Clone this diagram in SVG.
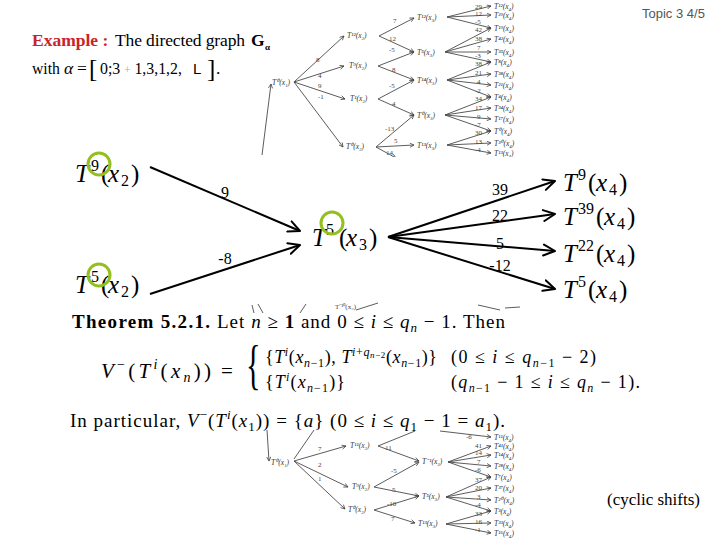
<svg xmlns="http://www.w3.org/2000/svg" width="720" height="540" viewBox="0 0 720 540">
<defs>
<style>
.mt{font-family:"Liberation Serif","DejaVu Serif",serif;fill:#000}
.it{font-style:italic}
.b{font-weight:bold}
.edge{stroke:#000;stroke-width:2;fill:none}
.ring{fill:none;stroke:#93C01F;stroke-width:3}
.tr{stroke:#4a4a4a;stroke-width:0.9;fill:none}
.tt{font-family:"Liberation Serif",serif;font-size:7px;fill:#444}
.tn{font-family:"Liberation Serif",serif;font-size:7.5px;fill:#333;font-style:italic}
</style>
<marker id="ah" viewBox="0 0 14 14" refX="12.5" refY="7" markerWidth="14" markerHeight="14" orient="auto" markerUnits="userSpaceOnUse">
<path d="M1,1.5 L12.5,7 L1,12.5" fill="none" stroke="#000" stroke-width="2" stroke-linecap="round" stroke-linejoin="round"/>
</marker>
<marker id="sa" viewBox="0 0 6 6" refX="5.5" refY="3" markerWidth="5" markerHeight="5" orient="auto" markerUnits="userSpaceOnUse">
<path d="M0.5,0.5 L5.5,3 L0.5,5.5" fill="none" stroke="#444" stroke-width="0.9"/>
</marker>
<clipPath id="cTop"><rect x="255" y="0" width="265" height="157"/></clipPath>
<clipPath id="cBot"><rect x="255" y="430" width="265" height="110"/></clipPath>
</defs>
<rect width="720" height="540" fill="#fff"/>

<!-- header -->
<g id="header">
<text x="642" y="18" font-family="'Liberation Sans',Arial,sans-serif" font-size="13" fill="#555">Topic 3 4/5</text>
<text x="32" y="46" class="mt b" font-size="17.5" style="fill:#CC2229">Example :</text>
<text x="115" y="46" class="mt" font-size="17.5" textLength="130" lengthAdjust="spacing">The directed graph</text>
<text x="251" y="46" class="mt b" font-size="17.5">G</text>
<text x="265" y="50" class="mt b" font-size="9">α</text>
<text x="32" y="74" class="mt" font-size="17.5" textLength="28" lengthAdjust="spacingAndGlyphs">with</text>
<text x="64" y="74" class="mt it" font-size="17.5">α</text>
<text x="77" y="74" class="mt" font-size="17.5">=</text>
<text x="89" y="77" class="mt" font-size="25">[</text>
<text x="100" y="74" class="mt" font-size="17.5" textLength="82" lengthAdjust="spacingAndGlyphs">0;3 <tspan font-size="12" style="fill:#aaa">+</tspan> 1,3,1,2,</text>
<text x="193" y="74" font-size="15" font-family="'Liberation Sans',sans-serif" fill="#000">L</text>
<text x="207" y="77" class="mt" font-size="25">]</text>
<text x="216" y="74" class="mt" font-size="17.5">.</text>
</g>

<!-- faint top tree -->
<g id="topTree" clip-path="url(#cTop)">
<g class="tr" marker-end="url(#sa)">
<path d="M262,155 L271,84"/>
<path d="M294,82 L344,36"/><path d="M294,82 L344,66"/><path d="M294,82 L345,99"/><path d="M294,82 L343,147"/>
<path d="M379,36 L414,18"/><path d="M379,36 L414,52"/>
<path d="M378,66 L414,52"/><path d="M378,66 L414,80"/>
<path d="M378,99 L414,80"/><path d="M378,99 L414,115"/>
<path d="M376,147 L414,115"/><path d="M376,147 L414,145"/><path d="M376,147 L396,158"/>
<path d="M447,17 L491,6"/><path d="M447,17 L491,15"/><path d="M447,17 L491,28"/>
<path d="M445,52 L491,28"/><path d="M445,52 L491,39"/><path d="M445,52 L491,52"/><path d="M445,52 L491,62"/>
<path d="M447,80 L491,62"/><path d="M447,80 L491,74"/><path d="M447,80 L491,85"/><path d="M447,80 L491,97"/>
<path d="M445,115 L491,97"/><path d="M445,115 L491,108"/><path d="M445,115 L491,119"/><path d="M445,115 L491,131"/>
<path d="M447,145 L491,131"/><path d="M447,145 L491,143"/><path d="M447,145 L491,153"/>
</g>
<text class="tn" x="272" y="85">T⁰(x₁)</text>
<text class="tn" x="347" y="38">T¹²(x₂)</text>
<text class="tn" x="349" y="68">T⁹(x₂)</text>
<text class="tn" x="350" y="101">T¹(x₂)</text>
<text class="tn" x="346" y="149">T⁰(x₂)</text>
<text class="tn" x="417" y="20">T¹²(x₃)</text>
<text class="tn" x="417" y="55">T⁵(x₃)</text>
<text class="tn" x="417" y="83">T¹⁴(x₃)</text>
<text class="tn" x="417" y="118">T⁰(x₃)</text>
<text class="tn" x="417" y="148">T¹³(x₃)</text>
<g class="tn">
<text x="494" y="9">T¹²(x₄)</text><text x="494" y="18">T²⁹(x₄)</text><text x="494" y="31">T¹⁹(x₄)</text>
<text x="494" y="42">T⁴²(x₄)</text><text x="494" y="55">T³⁵(x₄)</text><text x="494" y="65">T⁸(x₄)</text>
<text x="494" y="77">T³⁸(x₄)</text><text x="494" y="88">T²¹(x₄)</text><text x="494" y="100">T⁴(x₄)</text>
<text x="494" y="111">T³⁴(x₄)</text><text x="494" y="122">T¹⁷(x₄)</text><text x="494" y="134">T⁰(x₄)</text>
<text x="494" y="146">T³⁰(x₄)</text><text x="494" y="156">T¹³(x₄)</text>
</g>
<g class="tt">
<text x="316" y="62">8</text><text x="318" y="78">4</text><text x="318" y="88">9</text><text x="318" y="99">-1</text>
<text x="393" y="23">7</text><text x="389" y="41">12</text><text x="389" y="52">-5</text><text x="392" y="72">8</text>
<text x="389" y="88">-5</text><text x="392" y="106">4</text><text x="385" y="131">-13</text><text x="394" y="143">5</text><text x="386" y="155">14</text>
<text x="475" y="9">29</text><text x="475" y="16">12</text><text x="475" y="24">-5</text>
<text x="475" y="32">42</text><text x="475" y="41">38</text><text x="477" y="50">7</text><text x="475" y="58">-3</text>
<text x="475" y="66">38</text><text x="475" y="75">21</text><text x="477" y="84">4</text><text x="475" y="93">-2</text>
<text x="475" y="101">34</text><text x="475" y="110">17</text><text x="477" y="119">9</text><text x="475" y="127">-7</text>
<text x="475" y="135">30</text><text x="475" y="144">13</text><text x="475" y="152">-4</text>
</g>
</g>

<!-- faint fragments near theorem -->
<g id="fragments" class="tr">
<path d="M252,305 L254,313"/><path d="M258,304 L263,313"/><path d="M300,313 L306,304"/>
<path d="M356,310 L378,303"/><path d="M478,305 L500,310"/><path d="M505,308 L520,307"/>
</g>
<text class="tt" x="335" y="309">T⁻¹⁰(x₃)</text>

<!-- faint bottom tree -->
<g id="bottomTree" clip-path="url(#cBot)">
<g class="tr" marker-end="url(#sa)">
<path d="M267,430 L269,461"/>
<path d="M294,461 L346,446"/><path d="M294,461 L348,487"/><path d="M294,461 L345,509"/>
<path d="M378,446 L419,461"/>
<path d="M374,487 L419,462"/><path d="M374,487 L419,496"/>
<path d="M374,510 L419,496"/><path d="M374,510 L415,523"/>
<path d="M440,431 L491,437"/>
<path d="M448,462 L491,446"/><path d="M448,462 L491,455"/><path d="M448,462 L491,466"/><path d="M448,462 L491,477"/>
<path d="M446,497 L491,477"/><path d="M446,497 L491,488"/><path d="M446,497 L491,500"/><path d="M446,497 L491,511"/>
<path d="M446,524 L491,511"/><path d="M446,524 L491,523"/><path d="M446,524 L491,533"/>
</g>
<path class="tr" d="M294,459 L314,430"/>
<path class="tr" d="M378,446 L415,431"/>
<text class="tn" x="271" y="465">T⁰(x₁)</text>
<text class="tn" x="350" y="448">T¹¹(x₂)</text>
<text class="tn" x="352" y="489">T⁹(x₂)</text>
<text class="tn" x="348" y="512">T⁰(x₂)</text>
<text class="tn" x="422" y="464">T⁻¹(x₃)</text>
<text class="tn" x="422" y="499">T⁵(x₃)</text>
<text class="tn" x="418" y="526">T¹³(x₃)</text>
<g class="tn">
<text x="494" y="440">T¹¹(x₄)</text><text x="494" y="449">T⁴¹(x₄)</text><text x="494" y="458">T¹⁴(x₄)</text>
<text x="494" y="469">T²⁸(x₄)</text><text x="494" y="480">T⁷(x₄)</text><text x="494" y="491">T³⁷(x₄)</text>
<text x="494" y="503">T²⁰(x₄)</text><text x="494" y="514">T³(x₄)</text><text x="494" y="526">T³³(x₄)</text>
<text x="494" y="536">T¹⁶(x₄)</text>
</g>
<g class="tt">
<text x="318" y="451">7</text><text x="318" y="467">2</text><text x="318" y="481">1</text>
<text x="385" y="450">11</text><text x="391" y="473">-5</text><text x="392" y="492">5</text>
<text x="387" y="506">-10</text><text x="391" y="521">7</text>
<text x="466" y="439">-6</text>
<text x="475" y="448">41</text><text x="475" y="455">14</text><text x="477" y="464">7</text><text x="475" y="472">-6</text>
<text x="475" y="482">37</text><text x="475" y="490">20</text><text x="477" y="499">3</text><text x="475" y="507">-4</text>
<text x="475" y="516">33</text><text x="475" y="524">16</text><text x="475" y="532">-1</text>
</g>
</g>

<!-- main graph connectors -->
<g id="connectors">
<g class="edge" marker-end="url(#ah)">
<path d="M150,167 L300,231"/>
<path d="M150,294 L300,245"/>
<path d="M388,237 L555,181"/>
<path d="M388,237 L555,214"/>
<path d="M388,237 L555,251"/>
<path d="M388,237 L555,289"/>
</g>
<g class="mt" font-size="16" text-anchor="middle">
<text x="225" y="198">9</text>
<text x="225" y="264">-8</text>
<text x="500" y="195">39</text>
<text x="500" y="221">22</text>
<text x="500" y="249">5</text>
<text x="500" y="271">-12</text>
</g>
</g>

<!-- main graph nodes -->
<g id="n_T9x2" class="mt" font-size="25">
<text><tspan x="75" y="182" class="it">T</tspan><tspan x="91" y="171" font-size="16">9</tspan><tspan x="101" y="182">(</tspan><tspan x="108" y="182" class="it">x</tspan><tspan x="121" y="186" font-size="16">2</tspan><tspan x="131" y="182">)</tspan></text>
<circle class="ring" cx="99" cy="164" r="11"/>
</g>
<g id="n_T5x2" class="mt" font-size="25">
<text><tspan x="75" y="293" class="it">T</tspan><tspan x="91" y="282" font-size="16">5</tspan><tspan x="101" y="293">(</tspan><tspan x="108" y="293" class="it">x</tspan><tspan x="121" y="297" font-size="16">2</tspan><tspan x="131" y="293">)</tspan></text>
<circle class="ring" cx="99" cy="275" r="11"/>
</g>
<g id="n_T5x3" class="mt" font-size="25">
<text><tspan x="312" y="246" class="it">T</tspan><tspan x="326" y="235" font-size="16">5</tspan><tspan x="339" y="246">(</tspan><tspan x="346" y="246" class="it">x</tspan><tspan x="359" y="250" font-size="16">3</tspan><tspan x="369" y="246">)</tspan></text>
<circle class="ring" cx="332" cy="223" r="11"/>
</g>
<g id="n_T9x4" class="mt" font-size="25">
<text><tspan x="563" y="191" class="it">T</tspan><tspan x="578" y="180" font-size="16">9</tspan><tspan x="588" y="191">(</tspan><tspan x="596" y="191" class="it">x</tspan><tspan x="609" y="195" font-size="16">4</tspan><tspan x="619" y="191">)</tspan></text>
</g>
<g id="n_T39x4" class="mt" font-size="25">
<text><tspan x="563" y="225" class="it">T</tspan><tspan x="578" y="214" font-size="16">39</tspan><tspan x="596" y="225">(</tspan><tspan x="604" y="225" class="it">x</tspan><tspan x="617" y="229" font-size="16">4</tspan><tspan x="627" y="225">)</tspan></text>
</g>
<g id="n_T22x4" class="mt" font-size="25">
<text><tspan x="563" y="262" class="it">T</tspan><tspan x="578" y="251" font-size="16">22</tspan><tspan x="596" y="262">(</tspan><tspan x="604" y="262" class="it">x</tspan><tspan x="617" y="266" font-size="16">4</tspan><tspan x="627" y="262">)</tspan></text>
</g>
<g id="n_T5x4" class="mt" font-size="25">
<text><tspan x="563" y="298" class="it">T</tspan><tspan x="578" y="287" font-size="16">5</tspan><tspan x="588" y="298">(</tspan><tspan x="596" y="298" class="it">x</tspan><tspan x="609" y="302" font-size="16">4</tspan><tspan x="619" y="298">)</tspan></text>
</g>

<!-- theorem -->
<g id="theorem" class="mt">
<text x="72" y="328" font-size="19" font-weight="bold" textLength="138" lengthAdjust="spacing">Theorem 5.2.1.</text>
<text x="217" y="328" font-size="19" textLength="288" lengthAdjust="spacing">Let <tspan class="it">n</tspan> ≥ <tspan font-weight="bold">1</tspan> and 0 ≤ <tspan class="it">i</tspan> ≤ <tspan class="it">q</tspan><tspan class="it" font-size="13" dy="4">n</tspan><tspan dy="-4"> − 1. Then</tspan></text>

<text x="101" y="378" font-size="21" textLength="110" lengthAdjust="spacing"><tspan class="it">V</tspan><tspan font-size="14" dy="-9">−</tspan><tspan dy="9">(</tspan><tspan class="it">T</tspan><tspan class="it" font-size="14" dy="-9">i</tspan><tspan dy="9">(</tspan><tspan class="it">x</tspan><tspan class="it" font-size="14" dy="4">n</tspan><tspan dy="-4">))</tspan></text>
<text x="221" y="378" font-size="21">=</text>
<text transform="translate(246,383) scale(0.55,1)" font-size="55" x="0" y="0">{</text>

<text x="265" y="363" font-size="18" textLength="172" lengthAdjust="spacing">{<tspan class="it">T</tspan><tspan class="it" font-size="12" dy="-7">i</tspan><tspan dy="7">(</tspan><tspan class="it">x</tspan><tspan font-size="12" dy="4"><tspan class="it">n</tspan>−1</tspan><tspan dy="-4">), </tspan><tspan class="it">T</tspan><tspan font-size="12" dy="-7"><tspan class="it">i</tspan>+<tspan class="it">q</tspan></tspan><tspan font-size="9" dy="2"><tspan class="it">n</tspan>−2</tspan><tspan dy="5">(</tspan><tspan class="it">x</tspan><tspan font-size="12" dy="4"><tspan class="it">n</tspan>−1</tspan><tspan dy="-4">)}</tspan></text>
<text x="451" y="363" font-size="18" textLength="145" lengthAdjust="spacing">(0 ≤ <tspan class="it">i</tspan> ≤ <tspan class="it">q</tspan><tspan font-size="12" dy="4"><tspan class="it">n</tspan>−1</tspan><tspan dy="-4"> − 2)</tspan></text>

<text x="265" y="388" font-size="18" textLength="80" lengthAdjust="spacing">{<tspan class="it">T</tspan><tspan class="it" font-size="12" dy="-7">i</tspan><tspan dy="7">(</tspan><tspan class="it">x</tspan><tspan font-size="12" dy="4"><tspan class="it">n</tspan>−1</tspan><tspan dy="-4">)}</tspan></text>
<text x="451" y="388" font-size="18" textLength="189" lengthAdjust="spacing">(<tspan class="it">q</tspan><tspan font-size="12" dy="4"><tspan class="it">n</tspan>−1</tspan><tspan dy="-4"> − 1 ≤ </tspan><tspan class="it">i</tspan> ≤ <tspan class="it">q</tspan><tspan class="it" font-size="12" dy="4">n</tspan><tspan dy="-4"> − 1).</tspan></text>

<text x="70" y="427" font-size="19" textLength="435" lengthAdjust="spacing">In particular, <tspan class="it">V</tspan><tspan font-size="13" dy="-8">−</tspan><tspan dy="8">(</tspan><tspan class="it">T</tspan><tspan class="it" font-size="13" dy="-8">i</tspan><tspan dy="8">(</tspan><tspan class="it">x</tspan><tspan font-size="13" dy="4">1</tspan><tspan dy="-4">)) = {</tspan><tspan class="it">a</tspan>} (0 ≤ <tspan class="it">i</tspan> ≤ <tspan class="it">q</tspan><tspan font-size="13" dy="4">1</tspan><tspan dy="-4"> − 1 = </tspan><tspan class="it">a</tspan><tspan font-size="13" dy="4">1</tspan><tspan dy="-4">).</tspan></text>

<text x="607" y="505" font-size="17">(cyclic shifts)</text>
</g>
</svg>
